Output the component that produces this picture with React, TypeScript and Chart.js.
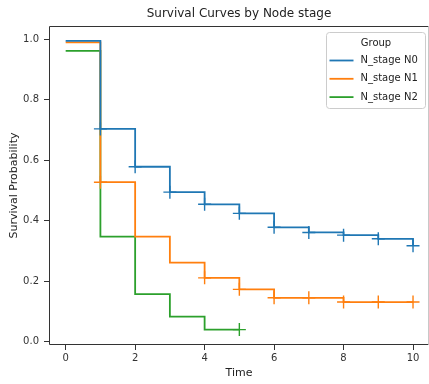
import React, { useEffect, useRef } from "react";
import { Chart, registerables } from "chart.js";

Chart.register(...registerables);

const chartTitle = "Survival Curves by Node stage";
const groups = ["N_stage N0", "N_stage N1", "N_stage N2"];
const colors = ["#1f77b4", "#ff7f0e", "#2ca02c"];

const n0Times = [0, 1, 2, 3, 4, 5, 6, 7, 8, 9, 10];
const n0Surv = [0.994, 0.703, 0.578, 0.494, 0.454, 0.424, 0.378, 0.361, 0.352, 0.34, 0.317];
const n0Censor = [1, 2, 3, 4, 5, 6, 7, 8, 9, 10];

const n1Times = [0, 1, 2, 3, 4, 5, 6, 7, 8, 9, 10];
const n1Surv = [0.989, 0.527, 0.347, 0.261, 0.211, 0.173, 0.145, 0.145, 0.131, 0.131, 0.131];
const n1Censor = [1, 4, 5, 6, 7, 8, 9, 10];

const n2Times = [0, 1, 2, 3, 4, 5];
const n2Surv = [0.961, 0.347, 0.157, 0.083, 0.04, 0.04];
const n2Censor = [5];

const xTicks = [0, 2, 4, 6, 8, 10];
const yTicks = [0, 0.2, 0.4, 0.6, 0.8, 1.0];

const FONT = "'DejaVu Sans', sans-serif";

const seriesTimes = [n0Times, n1Times, n2Times];
const seriesSurv = [n0Surv, n1Surv, n2Surv];
const seriesCensor = [n0Censor, n1Censor, n2Censor];

const framePlugin = {
  id: "frame",
  afterDatasetsDraw(chart: any) {
    const { ctx, chartArea } = chart;
    const l = Math.round(chartArea.left) + 0.5;
    const t = Math.round(chartArea.top) + 0.5;
    const r = Math.round(chartArea.right) - 0.5;
    const b = Math.round(chartArea.bottom) - 0.5;
    ctx.save();
    ctx.lineWidth = 1;
    ctx.strokeStyle = "#333333";
    ctx.beginPath();
    ctx.moveTo(r, t);
    ctx.lineTo(l, t);
    ctx.lineTo(l, b);
    ctx.lineTo(r, b);
    ctx.stroke();
    ctx.strokeStyle = "#c8c8c8";
    ctx.beginPath();
    ctx.moveTo(r, t);
    ctx.lineTo(r, b);
    ctx.stroke();
    ctx.restore();
  },
};

const titlePlugin = {
  id: "axesTitle",
  afterDraw(chart: any) {
    const { ctx, chartArea } = chart;
    ctx.save();
    ctx.font = `12px ${FONT}`;
    ctx.fillStyle = "#222222";
    ctx.textAlign = "center";
    ctx.textBaseline = "middle";
    ctx.fillText(chartTitle, (chartArea.left + chartArea.right) / 2, chartArea.top - 12.6);
    ctx.restore();
  },
};

const legendPlugin = {
  id: "kmLegend",
  afterDraw(chart: any) {
    const { ctx, chartArea } = chart;
    const w = 99;
    const h = 76;
    const x = chartArea.right - w - 3.5;
    const y = chartArea.top + 6.5;
    ctx.save();
    const r = 3;
    ctx.beginPath();
    ctx.moveTo(x + r, y);
    ctx.lineTo(x + w - r, y);
    ctx.quadraticCurveTo(x + w, y, x + w, y + r);
    ctx.lineTo(x + w, y + h - r);
    ctx.quadraticCurveTo(x + w, y + h, x + w - r, y + h);
    ctx.lineTo(x + r, y + h);
    ctx.quadraticCurveTo(x, y + h, x, y + h - r);
    ctx.lineTo(x, y + r);
    ctx.quadraticCurveTo(x, y, x + r, y);
    ctx.closePath();
    ctx.fillStyle = "rgba(255,255,255,0.8)";
    ctx.fill();
    ctx.strokeStyle = "#cccccc";
    ctx.lineWidth = 1;
    ctx.stroke();

    ctx.font = `10px ${FONT}`;
    ctx.fillStyle = "#222222";
    ctx.textAlign = "center";
    ctx.textBaseline = "middle";
    ctx.fillText("Group", x + w / 2, y + 10.5);

    groups.forEach((g, i) => {
      const ry = y + 28 + i * 18.3;
      ctx.strokeStyle = colors[i];
      ctx.lineWidth = 1.8;
      ctx.beginPath();
      ctx.moveTo(x + 3, ry);
      ctx.lineTo(x + 27, ry);
      ctx.stroke();
      ctx.fillStyle = "#222222";
      ctx.textAlign = "left";
      ctx.fillText(g, x + 34, ry);
    });
    ctx.restore();
  },
};

export default function App() {
  const canvasRef = useRef<HTMLCanvasElement | null>(null);

  useEffect(() => {
    document.body.style.margin = "0";
    const canvas = canvasRef.current;
    if (!canvas) return;

    const datasets = groups.map((g, i) => {
      const censor = seriesCensor[i];
      return {
        label: g,
        data: seriesTimes[i].map((t, j) => ({ x: t, y: seriesSurv[i][j] })),
        borderColor: colors[i],
        backgroundColor: colors[i],
        borderWidth: 1.8,
        stepped: true,
        fill: false,
        pointStyle: "cross",
        pointRadius: (c: any) => (c.raw && censor.includes(c.raw.x) ? 6.5 : 0),
        pointBorderWidth: 1.4,
        pointBorderColor: colors[i],
        pointHoverRadius: 0,
      };
    });

    const chart = new Chart(canvas, {
      type: "line",
      data: { datasets } as any,
      options: {
        responsive: false,
        animation: false,
        events: [],
        layout: { autoPadding: false, padding: { left: 0, right: 0, top: 26, bottom: 0 } },
        plugins: {
          legend: { display: false },
          tooltip: { enabled: false },
          title: { display: false },
        },
        scales: {
          x: {
            type: "linear",
            min: -0.48,
            max: 10.46,
            afterBuildTicks: (s: any) => {
              s.ticks = xTicks.map((v) => ({ value: v }));
            },
            afterFit: (s: any) => {
              s.height = 39;
              s.paddingLeft = 0;
              s.paddingRight = 0;
            },
            ticks: {
              color: "#333333",
              font: { family: FONT, size: 10 },
              padding: 2,
              maxRotation: 0,
              autoSkip: false,
              callback: (v: any) => String(v),
            },
            grid: {
              display: true,
              drawOnChartArea: false,
              drawTicks: true,
              tickLength: 5,
              color: "#333333",
            },
            border: { display: false },
            title: {
              display: true,
              text: "Time",
              color: "#222222",
              font: { family: FONT, size: 11 },
              padding: { top: 0, bottom: 4.4 },
            },
          },
          y: {
            type: "linear",
            min: -0.0109,
            max: 1.043,
            afterBuildTicks: (s: any) => {
              s.ticks = yTicks.map((v) => ({ value: v }));
            },
            afterFit: (s: any) => {
              s.width = 49;
              s.paddingTop = 0;
              s.paddingBottom = 0;
            },
            ticks: {
              color: "#333333",
              font: { family: FONT, size: 10 },
              padding: 5,
              autoSkip: false,
              callback: (v: any) => Number(v).toFixed(1),
            },
            grid: {
              display: true,
              drawOnChartArea: false,
              drawTicks: true,
              tickLength: 5,
              color: "#333333",
            },
            border: { display: false },
            title: {
              display: true,
              text: "Survival Probability",
              color: "#222222",
              font: { family: FONT, size: 11 },
              padding: { top: 7.4, bottom: 0 },
            },
          },
        },
      } as any,
      plugins: [framePlugin, titlePlugin, legendPlugin],
    });

    return () => chart.destroy();
  }, []);

  return (
    <div style={{ width: 429, height: 384, position: "relative" }}>
      <canvas ref={canvasRef} width={429} height={384} />
    </div>
  );
}
